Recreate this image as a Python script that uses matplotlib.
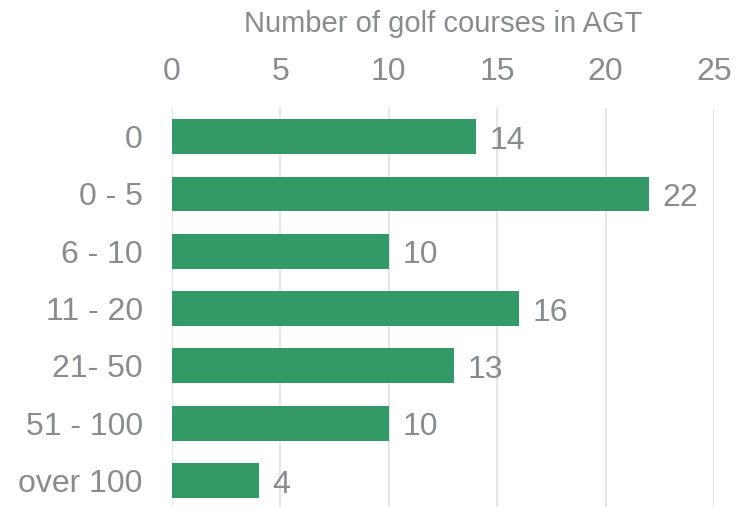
import matplotlib.pyplot as plt

plt.rcParams['font.family'] = ['Liberation Sans', 'DejaVu Sans']

categories = ['0', '0 - 5', '6 - 10', '11 - 20', '21- 50', '51 - 100', 'over 100']
counts = [14, 22, 10, 16, 13, 10, 4]
xticks = [0, 5, 10, 15, 20, 25]

green = '#339966'
grey = '#898b8e'

fig = plt.figure(figsize=(7.46, 5.07), dpi=100)
ax = fig.add_axes([172 / 746, 0, 542 / 746, 399 / 507])

pos = list(range(len(categories)))
ax.barh(pos, counts, height=0.61, color=green, zorder=3)
ax.set_ylim(6.46, -0.5)
ax.set_xlim(0, 25)

# value labels to the right of each bar
for p, v in zip(pos, counts):
    ax.annotate(str(v), xy=(v, p), xytext=(10, -3), textcoords='offset points',
                va='center', ha='left', fontsize=23, color=grey)

ax.set_yticks(pos)
ax.set_yticklabels(categories)
ax.set_xticks(xticks)
ax.xaxis.tick_top()
ax.xaxis.set_label_position('top')
ax.set_xlabel('Number of golf courses in AGT', fontsize=21, color=grey, labelpad=18)

ax.tick_params(axis='both', length=0, labelsize=23, labelcolor=grey)
ax.tick_params(axis='x', pad=15)
ax.tick_params(axis='y', pad=21)

ax.grid(axis='x', color='#e0e0e0', linewidth=1.2, zorder=0)
for s in ax.spines.values():
    s.set_visible(False)

fig.savefig('out.png', dpi=100)
